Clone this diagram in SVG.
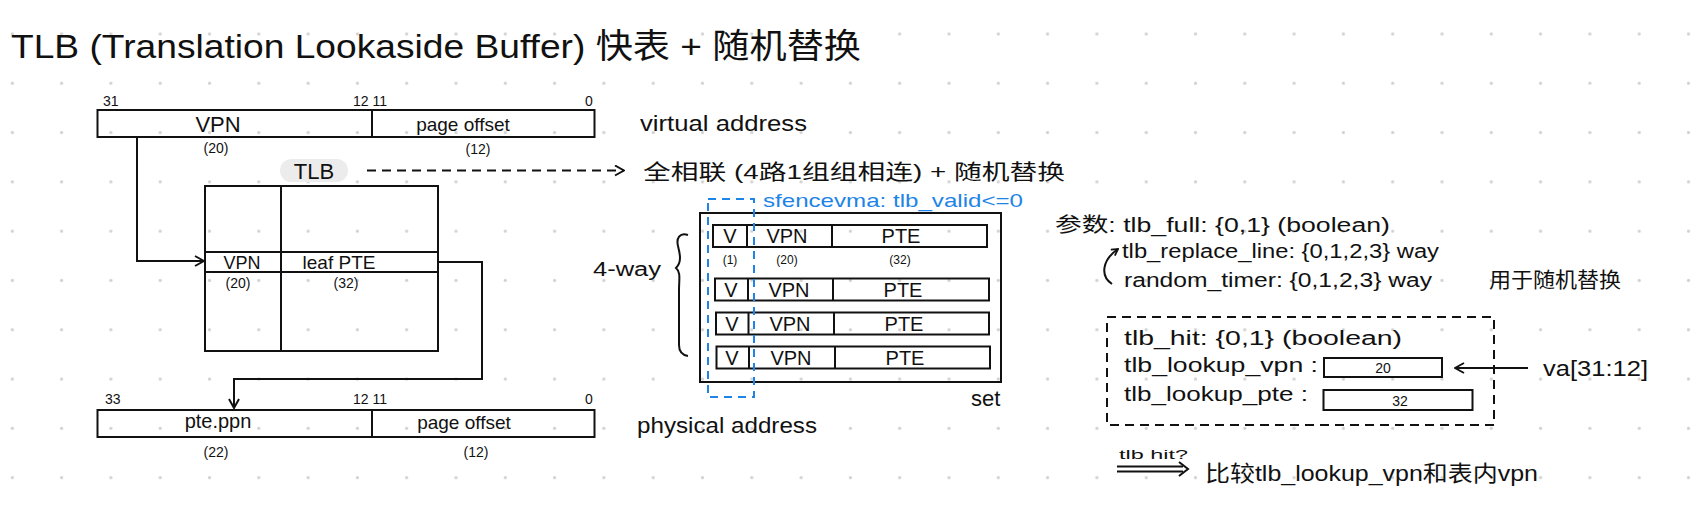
<svg xmlns="http://www.w3.org/2000/svg" width="1695" height="508" viewBox="0 0 1695 508">
<defs>
<style>
.t{font-family:"Liberation Sans","Noto Sans CJK SC",sans-serif;fill:#111}
.m{text-anchor:middle}
.s{font-size:14px}
.n{font-size:20px}
.bl{fill:#1e84e6}
.box{fill:none;stroke:#111;stroke-width:2}
.ln{fill:none;stroke:#111;stroke-width:2}
.dash{fill:none;stroke:#111;stroke-width:2;stroke-dasharray:9 6}
.bdash{fill:none;stroke:#1e84e6;stroke-width:2;stroke-dasharray:8 6}
</style>
<pattern id="grid" x="0" y="0" width="49.3" height="49.3" patternUnits="userSpaceOnUse">
<circle cx="12.3" cy="34" r="1.6" fill="#d2d2d2"/>
</pattern>
<marker id="ah" viewBox="0 0 12 12" refX="11" refY="6" markerWidth="12" markerHeight="12" orient="auto" markerUnits="userSpaceOnUse">
<path d="M2,1 L11,6 L2,11" fill="none" stroke="#111" stroke-width="2" stroke-dasharray="none"/>
</marker>
<marker id="ahs" viewBox="0 0 10 10" refX="9" refY="5" markerWidth="9" markerHeight="9" orient="auto" markerUnits="userSpaceOnUse">
<path d="M2,1 L9,5 L2,9" fill="none" stroke="#111" stroke-width="2"/>
</marker>
</defs>
<rect width="1695" height="508" fill="#fff"/>
<rect width="1695" height="508" fill="url(#grid)"/>

<g id="title">
<text class="t" x="11" y="58" font-size="34" textLength="850" lengthAdjust="spacingAndGlyphs">TLB (Translation Lookaside Buffer) 快表 + 随机替换</text>
</g>

<g id="virtual-address">
<rect class="box" x="97.5" y="110" width="497" height="27"/>
<line class="ln" x1="372" y1="110" x2="372" y2="137"/>
<text class="t s" x="103" y="106">31</text>
<text class="t s" x="353" y="106">12 11</text>
<text class="t s" x="585" y="106">0</text>
<text class="t m" x="218" y="132" font-size="22">VPN</text>
<text class="t m" x="463" y="131" font-size="19">page offset</text>
<text class="t m s" x="216" y="153">(20)</text>
<text class="t m s" x="478" y="154">(12)</text>
<text class="t" x="640" y="131" font-size="22" textLength="167" lengthAdjust="spacingAndGlyphs">virtual address</text>
</g>

<g id="tlb-label">
<rect x="280" y="159" width="68" height="23" rx="11.5" fill="#ececec"/>
<text class="t m" x="314" y="179" font-size="22">TLB</text>
<text class="t" x="643" y="179" font-size="21" textLength="422" lengthAdjust="spacingAndGlyphs">全相联 (4路1组组相连) + 随机替换</text>
</g>

<g id="tlb-table">
<rect class="box" x="205" y="186" width="233" height="165"/>
<line class="ln" x1="281" y1="186" x2="281" y2="351"/>
<line class="ln" x1="205" y1="252" x2="438" y2="252"/>
<line class="ln" x1="205" y1="272" x2="438" y2="272"/>
<text class="t m" x="242" y="269" font-size="18">VPN</text>
<text class="t m" x="339" y="269" font-size="19">leaf PTE</text>
<text class="t m s" x="238" y="288">(20)</text>
<text class="t m s" x="346" y="288">(32)</text>
</g>

<g id="physical-address">
<rect class="box" x="97.5" y="410" width="497" height="27"/>
<line class="ln" x1="372" y1="410" x2="372" y2="437"/>
<text class="t s" x="105" y="404">33</text>
<text class="t s" x="353" y="404">12 11</text>
<text class="t s" x="585" y="404">0</text>
<text class="t m" x="218" y="428" font-size="20">pte.ppn</text>
<text class="t m" x="464" y="429" font-size="19">page offset</text>
<text class="t m s" x="216" y="457">(22)</text>
<text class="t m s" x="476" y="457">(12)</text>
<text class="t" x="637" y="433" font-size="22" textLength="180" lengthAdjust="spacingAndGlyphs">physical address</text>
</g>

<g id="set">
<rect class="box" x="700" y="213" width="301" height="169"/>
<rect class="box" x="713" y="225" width="274" height="22"/>
<line class="ln" x1="747" y1="225" x2="747" y2="247"/>
<line class="ln" x1="832" y1="225" x2="832" y2="247"/>
<text class="t m n" x="730" y="243">V</text>
<text class="t m n" x="787" y="243">VPN</text>
<text class="t m n" x="901" y="243">PTE</text>
<text class="t m" x="730" y="264" font-size="12">(1)</text>
<text class="t m" x="787" y="264" font-size="12">(20)</text>
<text class="t m" x="900" y="264" font-size="12">(32)</text>
<rect class="box" x="715" y="278.5" width="274" height="22"/>
<line class="ln" x1="748" y1="278.5" x2="748" y2="300.5"/>
<line class="ln" x1="833" y1="278.5" x2="833" y2="300.5"/>
<text class="t m n" x="731" y="297">V</text>
<text class="t m n" x="789" y="297">VPN</text>
<text class="t m n" x="903" y="297">PTE</text>
<rect class="box" x="716" y="312.5" width="273" height="22"/>
<line class="ln" x1="748.5" y1="312.5" x2="748.5" y2="334.5"/>
<line class="ln" x1="834" y1="312.5" x2="834" y2="334.5"/>
<text class="t m n" x="732" y="331">V</text>
<text class="t m n" x="790" y="331">VPN</text>
<text class="t m n" x="904" y="331">PTE</text>
<rect class="box" x="716.5" y="346.5" width="273.5" height="22"/>
<line class="ln" x1="749" y1="346.5" x2="749" y2="368.5"/>
<line class="ln" x1="835" y1="346.5" x2="835" y2="368.5"/>
<text class="t m n" x="732" y="365">V</text>
<text class="t m n" x="791" y="365">VPN</text>
<text class="t m n" x="905" y="365">PTE</text>
<text class="t" x="971" y="406" font-size="22">set</text>
</g>

<g id="sfence">
<rect class="bdash" x="708" y="199" width="46" height="198"/>
<text class="t bl" x="763" y="207" font-size="19" textLength="260" lengthAdjust="spacingAndGlyphs">sfencevma: tlb_valid&lt;=0</text>
</g>

<g id="four-way">
<text class="t" x="593" y="276" font-size="20" textLength="68" lengthAdjust="spacingAndGlyphs">4-way</text>
<path class="ln" d="M688,235 C680,232 676,238 678,246 C680,254 682,262 676,268 C681,272 679,280 679,290 L679,345 C679,352 682,355 688,356"/>
</g>

<g id="params">
<text class="t" x="1055" y="232" font-size="20" textLength="335" lengthAdjust="spacingAndGlyphs">参数: tlb_full: {0,1} (boolean)</text>
<text class="t" x="1122" y="258" font-size="20" textLength="317" lengthAdjust="spacingAndGlyphs">tlb_replace_line: {0,1,2,3} way</text>
<text class="t" x="1124" y="287" font-size="20" textLength="308" lengthAdjust="spacingAndGlyphs">random_timer: {0,1,2,3} way</text>
<text class="t" x="1489" y="287" font-size="21" textLength="132" lengthAdjust="spacingAndGlyphs">用于随机替换</text>
</g>

<g id="lookup">
<rect class="dash" x="1107" y="317" width="387" height="108"/>
<text class="t" x="1124" y="345" font-size="20" textLength="278" lengthAdjust="spacingAndGlyphs">tlb_hit: {0,1} (boolean)</text>
<text class="t" x="1124" y="372" font-size="20" textLength="194" lengthAdjust="spacingAndGlyphs">tlb_lookup_vpn :</text>
<rect class="box" x="1324" y="358" width="118" height="19"/>
<text class="t m s" x="1383" y="373">20</text>
<text class="t" x="1124" y="401" font-size="20" textLength="184" lengthAdjust="spacingAndGlyphs">tlb_lookup_pte :</text>
<rect class="box" x="1323.5" y="390" width="149" height="20"/>
<text class="t m s" x="1400" y="406">32</text>
<text class="t" x="1543" y="376" font-size="22" textLength="105" lengthAdjust="spacingAndGlyphs">va[31:12]</text>
</g>

<g id="hit-note">
<text class="t" x="1119" y="459" font-size="13" textLength="69" lengthAdjust="spacingAndGlyphs">tlb hit?</text>
<text class="t" x="1205" y="481" font-size="22" textLength="333" lengthAdjust="spacingAndGlyphs">比较tlb_lookup_vpn和表内vpn</text>
</g>

<g id="connectors">
<path class="ln" d="M137,137 L137,261 L204,261" marker-end="url(#ah)"/>
<path class="ln" d="M438,262 L482,262 L482,379 L234,379 L234,408" marker-end="url(#ah)"/>
<path class="dash" d="M367,170.5 L624,170.5" marker-end="url(#ah)"/>
<path class="ln" d="M1528,368 L1455,368" marker-end="url(#ah)"/>
<path class="ln" d="M1112,284 C1100,276 1102,260 1118,249" marker-end="url(#ahs)"/>
<line class="ln" x1="1117" y1="466.5" x2="1183" y2="466.5"/>
<line class="ln" x1="1117" y1="471.5" x2="1183" y2="471.5"/>
<path class="ln" d="M1179,462 L1188,469 L1179,476"/>
</g>
</svg>
